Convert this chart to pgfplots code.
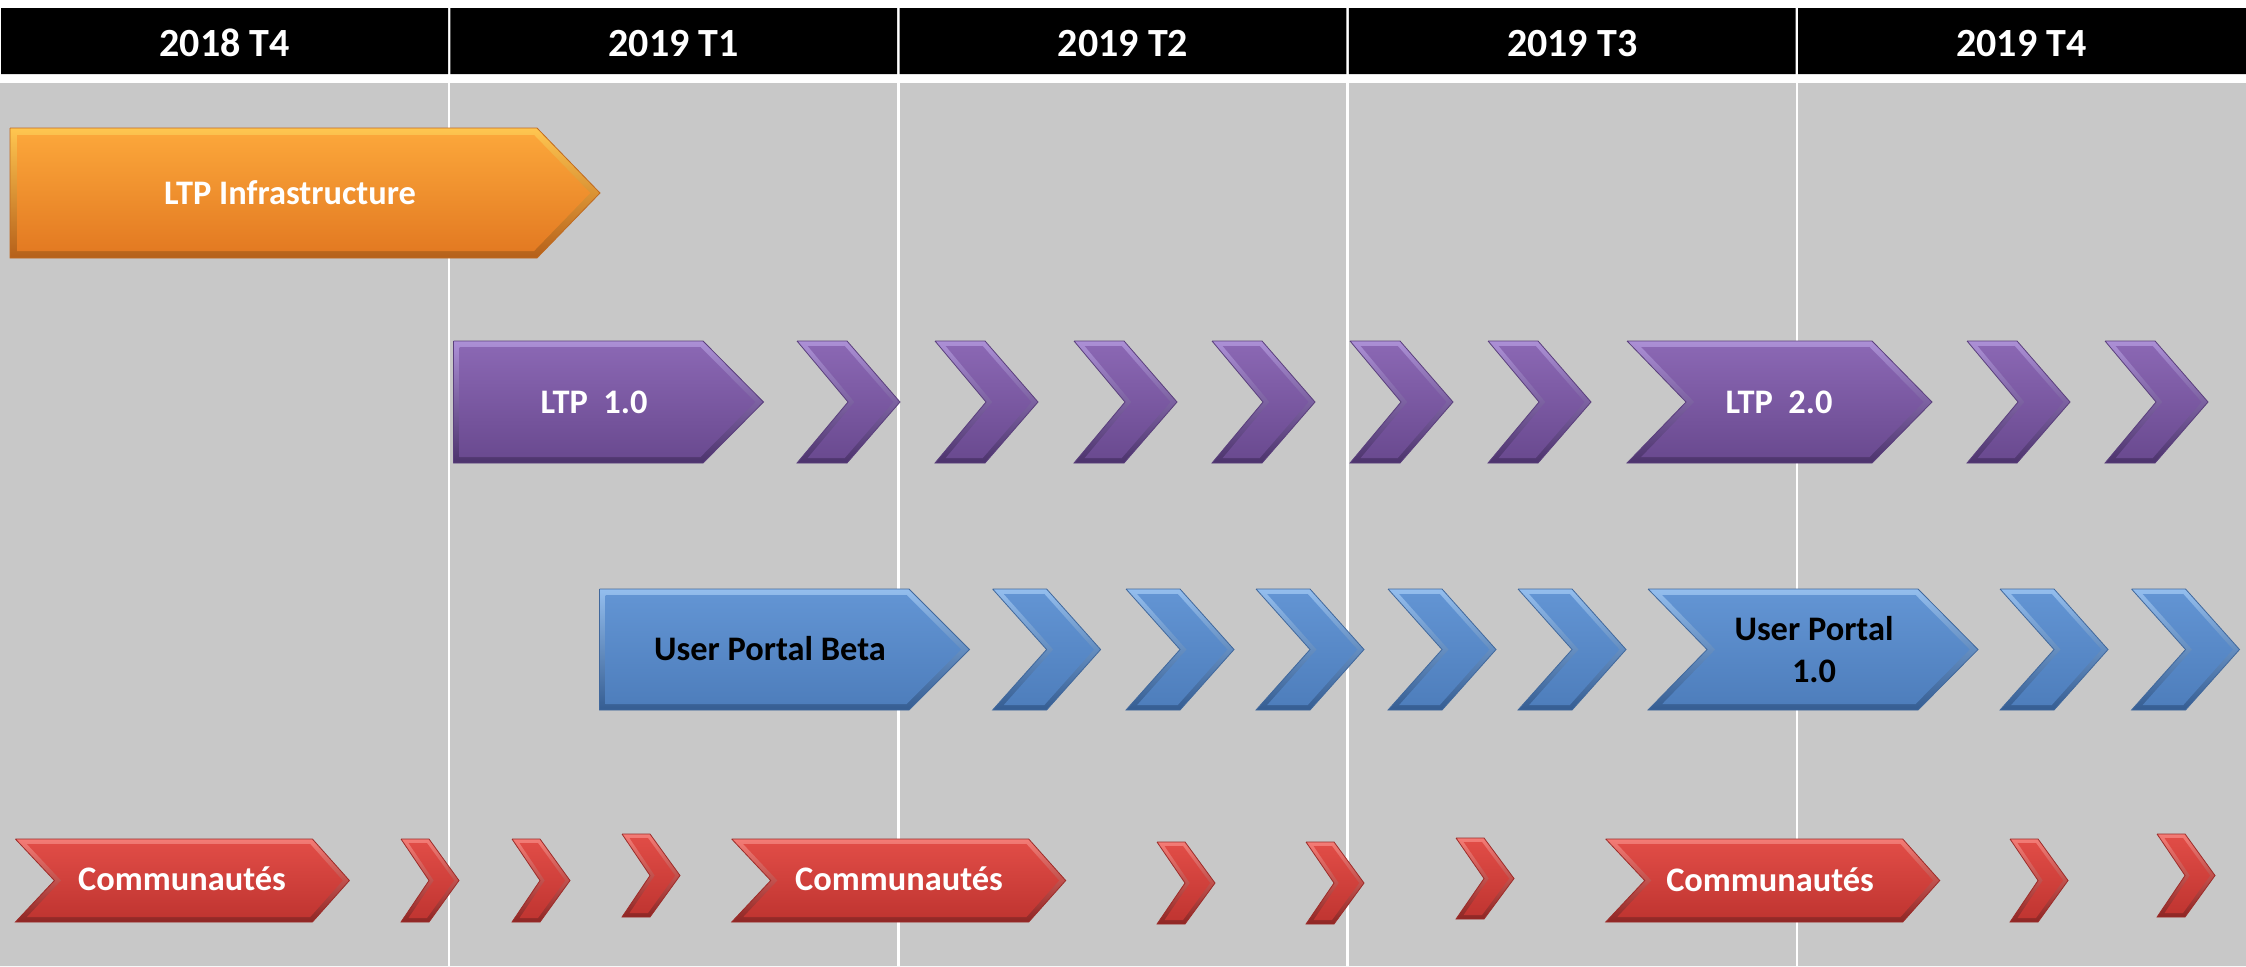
\documentclass[border=0pt]{standalone}
\usepackage{fontspec}
\setmainfont{Carlito}
\usepackage{pgfplots}
\pgfplotsset{compat=1.18}

\definecolor{bggray}{HTML}{C8C8C8}
% outer (bevel) and inner (body) colours
\definecolor{orL}{HTML}{FFC650}\definecolor{orD}{HTML}{B5601A}\definecolor{orT}{HTML}{FBA63A}\definecolor{orB}{HTML}{E37A22}\definecolor{orE}{HTML}{C06A20}
\definecolor{puL}{HTML}{AC90D6}\definecolor{puD}{HTML}{4C336C}\definecolor{puT}{HTML}{8A67B3}\definecolor{puB}{HTML}{6A4A90}\definecolor{puE}{HTML}{5A3F7C}
\definecolor{blL}{HTML}{94BEEE}\definecolor{blD}{HTML}{355D92}\definecolor{blT}{HTML}{6294D3}\definecolor{blB}{HTML}{4E7EBC}\definecolor{blE}{HTML}{41689C}
\definecolor{reL}{HTML}{F47C76}\definecolor{reD}{HTML}{8E2624}\definecolor{reT}{HTML}{E04C46}\definecolor{reB}{HTML}{C03531}\definecolor{reE}{HTML}{9C2C29}

\tikzset{
  orO/.style={draw=orE, line width=0.2pt, top color=orL, bottom color=orD},
  orI/.style={draw=none, top color=orT, bottom color=orB},
  puO/.style={draw=puE, line width=0.2pt, top color=puL, bottom color=puD},
  puI/.style={draw=none, top color=puT, bottom color=puB},
  blO/.style={draw=blE, line width=0.2pt, top color=blL, bottom color=blD},
  blI/.style={draw=none, top color=blT, bottom color=blB},
  reO/.style={draw=reE, line width=0.2pt, top color=reL, bottom color=reD},
  reI/.style={draw=none, top color=reT, bottom color=reB},
  lab/.style={anchor=base, inner sep=0pt, font=\fontsize{8.6}{10}\selectfont\bfseries},
  hdr/.style={anchor=base, inner sep=0pt, text=white, font=\fontsize{10}{12}\selectfont\bfseries},
}

% \shape{x}{top}{bottom}{top edge width}{tip depth}{notch depth}{bevel}{colour}
\newcommand{\shape}[8]{%
  \pgfmathsetmacro\hh{(#3-#2)/2}%
  \pgfmathsetmacro\ym{(#2+#3)/2}%
  \pgfmathsetmacro\xb{#1+#4}%
  \pgfmathsetmacro\xc{#1+#4+#5}%
  \pgfmathsetmacro\xn{#1+#6}%
  \edef\mytmp{\noexpand\addplot[#8O] coordinates {(#1,#2) (\xb,#2) (\xc,\ym) (\xb,#3) (#1,#3) (\xn,\ym) (#1,#2)};}\mytmp
  \pgfmathsetmacro\sd{#7*sqrt((#5)^2+\hh^2)/\hh}%
  \pgfmathsetmacro\sn{#7*sqrt((#6)^2+\hh^2)/\hh}%
  \pgfmathsetmacro\ta{#2+#7}%
  \pgfmathsetmacro\ba{#3-#7}%
  \pgfmathsetmacro\xai{#1+#6*#7/\hh+\sn}%
  \pgfmathsetmacro\xbi{\xb+#5*#7/\hh-\sd}%
  \pgfmathsetmacro\xci{\xc-\sd}%
  \pgfmathsetmacro\xni{\xn+\sn}%
  \edef\mytmp{\noexpand\addplot[#8I] coordinates {(\xai,\ta) (\xbi,\ta) (\xci,\ym) (\xbi,\ba) (\xai,\ba) (\xni,\ym) (\xai,\ta)};}\mytmp
}

\begin{document}
\begin{tikzpicture}
\begin{axis}[
    width=561.5pt, height=241.5pt, scale only axis,
    xmin=0, xmax=2246, ymin=0, ymax=966,
    y dir=reverse,
    hide axis, clip=false,
]
% background, header and quarter columns
\addplot[fill=white, draw=none] coordinates {(0,0) (2246,0) (2246,966) (0,966) (0,0)};
\addplot[fill=bggray, draw=none] coordinates {(0,83) (2246,83) (2246,966) (0,966) (0,83)};
\addplot[fill=black, draw=none] coordinates {(1,8) (448,8) (448,74) (1,74) (1,8)};
\addplot[fill=black, draw=none] coordinates {(450.4,8) (897.2,8) (897.2,74) (450.4,74) (450.4,8)};
\addplot[fill=black, draw=none] coordinates {(899.6,8) (1346.4,8) (1346.4,74) (899.6,74) (899.6,8)};
\addplot[fill=black, draw=none] coordinates {(1348.8,8) (1795.6,8) (1795.6,74) (1348.8,74) (1348.8,8)};
\addplot[fill=black, draw=none] coordinates {(1798,8) (2246,8) (2246,74) (1798,74) (1798,8)};
\addplot[white, line width=0.6pt] coordinates {(449.2,83) (449.2,966)};
\addplot[white, line width=0.6pt] coordinates {(898.4,83) (898.4,966)};
\addplot[white, line width=0.6pt] coordinates {(1347.6,83) (1347.6,966)};
\addplot[white, line width=0.6pt] coordinates {(1796.8,83) (1796.8,966)};

\node[hdr] at (axis cs:224.6,56) {2018 T4};
\node[hdr] at (axis cs:673.8,56) {2019 T1};
\node[hdr] at (axis cs:1123,56) {2019 T2};
\node[hdr] at (axis cs:1572.2,56) {2019 T3};
\node[hdr] at (axis cs:2021.4,56) {2019 T4};

% LTP Infrastructure
\shape{10}{128}{258}{527}{63}{0}{7}{or}
% LTP row
\shape{453.5}{341}{463}{249.5}{60.5}{0}{6}{pu}
\shape{797}{341}{463}{50}{53}{51}{5}{pu}
\shape{935}{341}{463}{50}{53}{51}{5}{pu}
\shape{1074}{341}{463}{50}{53}{51}{5}{pu}
\shape{1212}{341}{463}{50}{53}{51}{5}{pu}
\shape{1350}{341}{463}{50}{53}{51}{5}{pu}
\shape{1488}{341}{463}{50}{53}{51}{5}{pu}
\shape{1627}{341}{463}{245}{60}{59}{6}{pu}
\shape{1967}{341}{463}{50}{53}{51}{5}{pu}
\shape{2105}{341}{463}{50}{53}{51}{5}{pu}
% User Portal row
\shape{599.5}{589}{710}{309.5}{60.5}{0}{6}{bl}
\shape{992.6}{589}{710}{54}{54}{54}{5}{bl}
\shape{1126}{589}{710}{54}{54}{54}{5}{bl}
\shape{1256}{589}{710}{54}{54}{54}{5}{bl}
\shape{1388}{589}{710}{54}{54}{54}{5}{bl}
\shape{1518}{589}{710}{54}{54}{54}{5}{bl}
\shape{1648}{589}{710}{270}{60}{59}{6}{bl}
\shape{2000}{589}{710}{54}{54}{54}{5}{bl}
\shape{2131.5}{589}{710}{54}{54}{54}{5}{bl}
% Communautes row
\shape{15.4}{839}{922}{297}{37}{39}{5}{re}
\shape{401}{839}{922}{28}{30}{28}{4}{re}
\shape{512}{839}{922}{28}{30}{28}{4}{re}
\shape{622}{834}{917}{28}{30}{28}{4}{re}
\shape{731.7}{839}{922}{297}{37}{39}{5}{re}
\shape{1157}{842}{924}{28}{30}{28}{4}{re}
\shape{1306}{842}{924}{28}{30}{28}{4}{re}
\shape{1456}{838}{919}{28}{30}{28}{4}{re}
\shape{1605.7}{839}{922}{297}{37}{39}{5}{re}
\shape{2010}{839}{922}{28}{30}{28}{4}{re}
\shape{2157}{834}{917}{28}{30}{28}{4}{re}

\node[lab, text=white] at (axis cs:290,204) {LTP Infrastructure};
\node[lab, text=white] at (axis cs:594,413) {LTP\ \ 1.0};
\node[lab, text=white] at (axis cs:1779,413) {LTP\ \ 2.0};
\node[lab, text=black] at (axis cs:770,660.5) {User Portal Beta};
\node[lab, text=black] at (axis cs:1814,640) {User Portal};
\node[lab, text=black] at (axis cs:1814,682.7) {1.0};
\node[lab, text=white] at (axis cs:182,890.5) {Communautés};
\node[lab, text=white] at (axis cs:899,890.5) {Communautés};
\node[lab, text=white] at (axis cs:1770,891) {Communautés};
\end{axis}
\pgfresetboundingbox
\useasboundingbox (0,0) rectangle (561.5pt,241.5pt);
\end{tikzpicture}
\end{document}
